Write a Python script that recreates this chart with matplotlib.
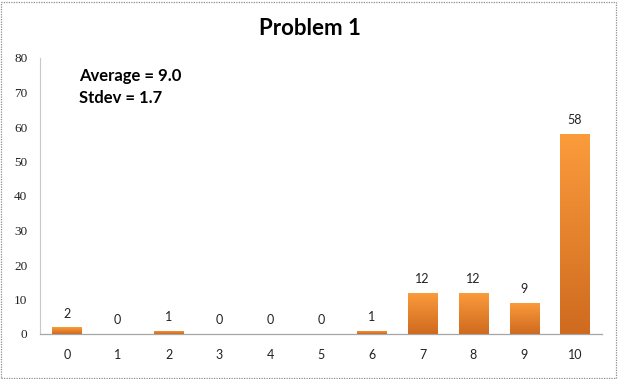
import matplotlib
matplotlib.use("Agg")
import matplotlib.pyplot as plt
import numpy as np
from matplotlib.colors import LinearSegmentedColormap
from matplotlib.patches import Rectangle

scores = [0, 1, 2, 3, 4, 5, 6, 7, 8, 9, 10]
counts = [2, 0, 1, 0, 0, 0, 1, 12, 12, 9, 58]
yticks = [0, 10, 20, 30, 40, 50, 60, 70, 80]

SANS = ["Lato", "DejaVu Sans"]
GREY = "#a6a6a6"

fig = plt.figure(figsize=(6.18, 3.79), dpi=100)
fig.patch.set_facecolor("white")
ax = fig.add_axes([40 / 618, 45 / 379, 562 / 618, 276 / 379])

bars = ax.bar(scores, counts, width=0.58, color="#e8822c", edgecolor="none", zorder=2)

# vertical gradient inside each bar, light on top, dark at bottom
cmap = LinearSegmentedColormap.from_list("org", ["#cf6a1f", "#fb9c3c"])
grad = np.linspace(0, 1, 256).reshape(-1, 1)
for b in bars:
    h = b.get_height()
    if h <= 0:
        continue
    x0 = b.get_x()
    im = ax.imshow(grad, cmap=cmap, origin="lower", aspect="auto",
                   extent=(x0, x0 + b.get_width(), 0, h), zorder=3)
    im.set_clip_path(b)

for x, c in zip(scores, counts):
    ax.text(x, c + 2.2, str(c), ha="center", va="bottom", fontsize=9,
            family=SANS, color="#222222")

ax.set_xlim(-0.53, 10.53)
ax.set_ylim(0, 80)
ax.set_xticks(scores)
ax.set_xticklabels([str(s) for s in scores], fontsize=9, family=SANS)
ax.set_yticks(yticks)
ax.set_yticklabels([str(v) for v in yticks], fontsize=9.5, family=["Liberation Serif"])
ax.tick_params(axis="both", length=0, colors="#222222")
ax.tick_params(axis="x", pad=11)
ax.tick_params(axis="y", pad=9)
ax.spines[["top", "right"]].set_visible(False)
ax.spines["left"].set_color("#c8c8c8")
ax.spines["left"].set_linestyle((0, (1, 1)))
ax.spines["left"].set_linewidth(0.8)
ax.spines["bottom"].set_color(GREY)
ax.spines["bottom"].set_linewidth(0.9)

fig.text(0.502, 0.925, "Problem 1", ha="center", va="center", fontsize=16,
         fontweight="bold", family=SANS)
ax.text(0.07, 0.935, "Average = 9.0", transform=ax.transAxes, fontsize=12,
        fontweight="bold", family=SANS, va="center")
ax.text(0.07, 0.855, "Stdev = 1.7", transform=ax.transAxes, fontsize=12,
        fontweight="bold", family=SANS, va="center")

# dotted outer frame
fig.add_artist(Rectangle((0.002, 0.003), 0.995, 0.993, transform=fig.transFigure,
                         fill=False, edgecolor="#8c8c8c", linewidth=0.9,
                         linestyle=(0, (1, 1))))

fig.savefig("out.png", dpi=100, facecolor="white")
